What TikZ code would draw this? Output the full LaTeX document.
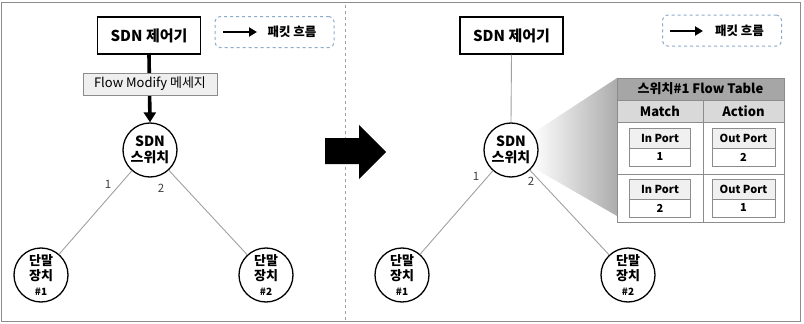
\documentclass[tikz,border=0pt]{standalone}
\usepackage{fontspec}
\setmainfont{Noto Sans CJK KR}
\usepackage{xcolor}
\definecolor{frameGray}  {HTML}{8C8C8C}
\definecolor{lineGray}   {HTML}{A0A0A0}
\definecolor{legendBlue} {HTML}{8EAACB}
\definecolor{labelBack}  {HTML}{EFEFEF}
\definecolor{titleBack}  {HTML}{A6A6A6}
\definecolor{headBack}   {HTML}{D9D9D9}
\definecolor{cellBack}   {HTML}{F0F0F0}
\usetikzlibrary{arrows.meta, positioning, calc}
\tikzset{
    ctrlbox/.style={rectangle, draw, line width=1.4pt, minimum width=103pt,
                    minimum height=37pt, inner sep=0pt,
                    font=\bfseries\fontsize{15}{17}\selectfont},
    device/.style={circle, draw, line width=1.3pt, fill=white, minimum size=54pt,
                   inner sep=0pt, align=center,
                   font=\bfseries\fontsize{14}{16.5}\selectfont},
    term/.style={device, font=\bfseries\fontsize{13}{15}\selectfont},
    legendbox/.style={rectangle, draw=legendBlue, dashed, line width=1pt,
                      rounded corners=5pt, minimum width=119pt, minimum height=31pt},
    legendtext/.style={font=\bfseries\fontsize{12.5}{14}\selectfont, inner sep=0pt},
    msgbox/.style={rectangle, draw=frameGray, fill=labelBack, minimum width=134pt,
                   minimum height=22pt, inner sep=0pt,
                   font=\fontsize{13}{15}\selectfont},
    portlabel/.style={font=\fontsize{11.5}{13}\selectfont, text=black!75, inner sep=0pt},
    flow/.style={-{Triangle[length=8pt, width=9pt]}, line width=2.8pt},
    ctrlflow/.style={-{Triangle[length=10pt, width=12pt]}, line width=3.6pt},
    link/.style={-, draw=lineGray, line width=0.9pt},
    cell/.style={rectangle, draw=frameGray, line width=0.9pt, inner sep=0pt,
                 outer sep=0pt, anchor=north west},
    titlecell/.style={cell, fill=titleBack, minimum width=167pt, minimum height=22pt,
                      font=\bfseries\fontsize{13}{15}\selectfont},
    headcell/.style={cell, fill=headBack, minimum height=22pt,
                     font=\bfseries\fontsize{13}{15}\selectfont},
    bodycell/.style={cell, fill=white},
    porthead/.style={rectangle, draw=frameGray, line width=0.8pt, fill=cellBack,
                     minimum height=20pt, inner sep=0pt, outer sep=0pt,
                     font=\bfseries\fontsize{11}{12}\selectfont},
    portval/.style={porthead, fill=white, minimum height=18pt},
}

\begin{document}
\begin{tikzpicture}[x=1pt, y=-1pt]
    \useasboundingbox (0,0) rectangle (804,324);
    % frame and divider
    \draw[frameGray, line width=1pt] (1.5,2) rectangle (800.5,321.5);
    \draw[lineGray, dashed, line width=0.9pt] (345,5) -- (345,321);

    % ---- before ----
    \node[ctrlbox, line width=1.7pt] (ctrlL) at (149,35.5) {SDN 제어기};
    \node[legendbox] (legendL) at (274.5,32) {};
    \coordinate (legArrLa) at (223,32);
    \coordinate (legArrLb) at (257,32);
    \node[legendtext] (legTextL) at (292,32) {패킷 흐름};
    \draw[flow] (legArrLa) -- (legArrLb);

    \node[device] (swL) at (150,150) {SDN\\스위치};
    \node[term] (term1L) at (41,275) {단말\\장치\\{\fontsize{10}{11}\selectfont\#1}};
    \node[term] (term2L) at (266,275) {단말\\장치\\{\fontsize{10}{11}\selectfont\#2}};
    \draw[ctrlflow] (ctrlL.south) -- (swL.north);
    \node[msgbox] (msgL) at (150,84) {Flow Modify 메세지};
    \draw[link] (swL) -- (term1L);
    \draw[link] (swL) -- (term2L);
    \node[portlabel] (portL1) at (108,184) {1};
    \node[portlabel] (portL2) at (161,188) {2};

    % big arrow
    \fill[black] (325,138) -- (359,138) -- (359,125) -- (386,152)
        -- (359,179) -- (359,164) -- (325,164) -- cycle;

    % ---- after ----
    \shade[left color=white, right color=gray!65] (533,133) -- (617,78)
        -- (617,216) -- (532,167) -- cycle;
    \node[ctrlbox, line width=1.2pt] (ctrlR) at (511.5,35.5) {SDN 제어기};
    \node[legendbox] (legendR) at (722,30.5) {};
    \coordinate (legArrRa) at (670,31);
    \coordinate (legArrRb) at (703,31);
    \node[legendtext] (legTextR) at (739.5,31) {패킷 흐름};
    \draw[flow] (legArrRa) -- (legArrRb);

    \node[device] (swR) at (511,150) {SDN\\스위치};
    \node[term] (term1R) at (402,275) {단말\\장치\\{\fontsize{10}{11}\selectfont\#1}};
    \node[term] (term2R) at (628,275) {단말\\장치\\{\fontsize{10}{11}\selectfont\#2}};
    \draw[link] (ctrlR.south) -- (swR.north);
    \draw[link] (swR) -- (term1R);
    \draw[link] (swR) -- (term2R);
    \node[portlabel] (portR1) at (476,176) {1};
    \node[portlabel] (portR2) at (531,181) {2};

    % flow table
    \node[titlecell] (ftTitle) at (617,78) {스위치\#1 Flow Table};
    \node[headcell, minimum width=86pt] (ftMatch) at (ftTitle.south west) {Match};
    \node[headcell, minimum width=81pt] (ftAction) at (ftMatch.north east) {Action};
    \node[bodycell, minimum width=86pt, minimum height=52pt] (ftRowA) at (ftMatch.south west) {};
    \node[bodycell, minimum width=81pt, minimum height=52pt] (ftRowAb) at (ftRowA.north east) {};
    \node[bodycell, minimum width=86pt, minimum height=48pt] (ftRowB) at (ftRowA.south west) {};
    \node[bodycell, minimum width=81pt, minimum height=48pt] (ftRowBb) at (ftRowB.north east) {};

    \node[porthead, minimum width=61pt, below=6pt of ftRowA.north] (inHeadA) {In Port};
    \node[portval, minimum width=61pt, below=0pt of inHeadA] (inValA) {1};
    \node[porthead, minimum width=63pt, below=6pt of ftRowAb.north] (outHeadA) {Out Port};
    \node[portval, minimum width=63pt, below=0pt of outHeadA] (outValA) {2};
    \node[porthead, minimum width=61pt, below=5pt of ftRowB.north] (inHeadB) {In Port};
    \node[portval, minimum width=61pt, below=0pt of inHeadB] (inValB) {2};
    \node[porthead, minimum width=63pt, below=5pt of ftRowBb.north] (outHeadB) {Out Port};
    \node[portval, minimum width=63pt, below=0pt of outHeadB] (outValB) {1};
\end{tikzpicture}
\end{document}
